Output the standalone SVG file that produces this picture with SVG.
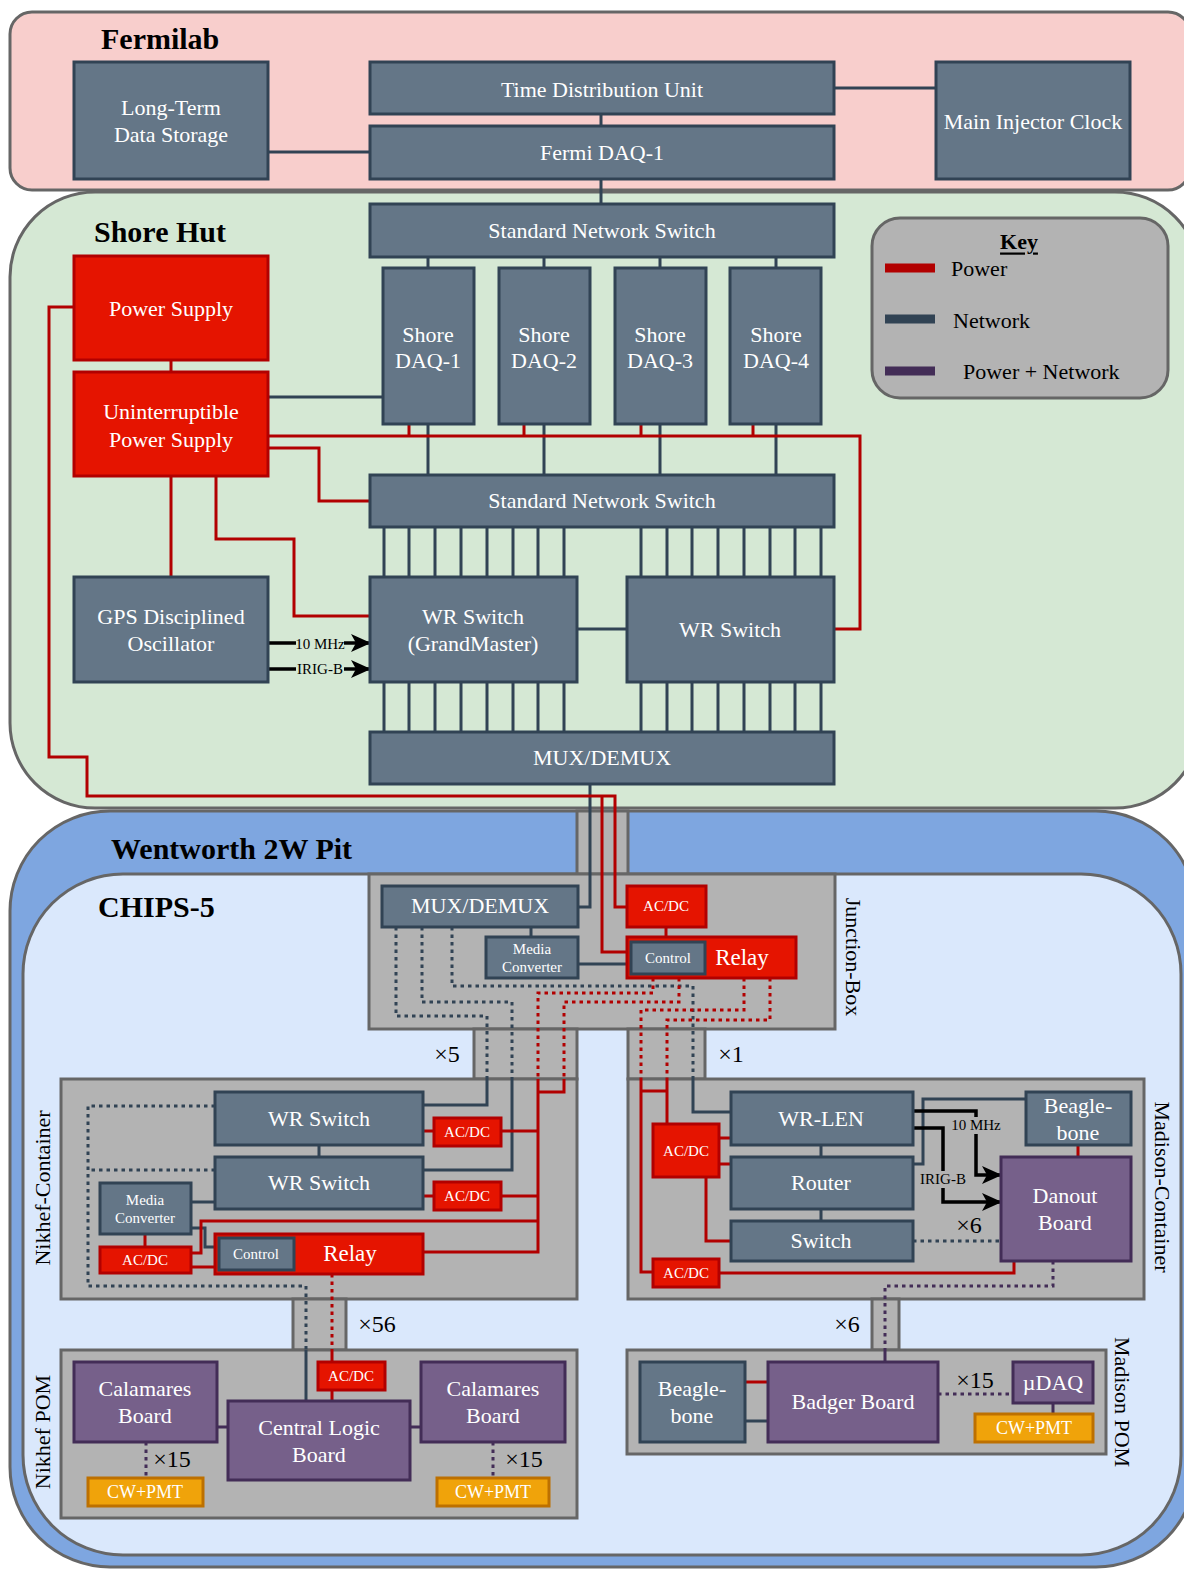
<svg xmlns="http://www.w3.org/2000/svg" width="1184" height="1569" viewBox="0 0 1184 1569">
<style>
.net{fill:#647687;stroke:#314354;stroke-width:3}
.pwr{fill:#e51400;stroke:#b20000;stroke-width:3}
.pur{fill:#76608a;stroke:#432d57;stroke-width:3}
.org{fill:#f0a30a;stroke:#bd7000;stroke-width:3}
.grey{fill:#b3b3b3;stroke:#666666;stroke-width:3}
.ln{fill:none;stroke:#314354;stroke-width:3}
.lp{fill:none;stroke:#b20000;stroke-width:3}
.lu{fill:none;stroke:#432d57;stroke-width:3}
.lk{fill:none;stroke:#000;stroke-width:3.5}
.dot{stroke-dasharray:3.5 4}
text{font-family:"Liberation Serif","Times New Roman",serif;dominant-baseline:central}
.t{fill:#fff;font-size:22px;text-anchor:middle}
.s{fill:#fff;font-size:15px;text-anchor:middle}
.cw{fill:#fff;font-size:18px;text-anchor:middle}
.rl{fill:#fff;font-size:23px;text-anchor:middle}
.k{fill:#000;font-size:22px}
.m{fill:#000;font-size:24px;text-anchor:middle}
.h{fill:#000;font-size:30px;font-weight:bold}
.lb{fill:#000;font-size:15px;text-anchor:middle}
</style>
<defs>
<marker id="arr" viewBox="0 0 20 18" refX="19" refY="9" markerWidth="20" markerHeight="18" markerUnits="userSpaceOnUse" orient="auto">
<path d="M0,0 L20,9 L0,18 L5,9 z" fill="#000"/>
</marker>
</defs>

<g id="regions">
<rect id="fermilab" x="10" y="12" width="1180" height="178" rx="22" fill="#f8cecc" stroke="#666666" stroke-width="3"/>
<rect id="wentworth" x="10" y="811" width="1186" height="756" rx="100" fill="#7ea6e0" stroke="#666666" stroke-width="3"/>
<rect id="shore-hut" x="10" y="192" width="1190" height="616" rx="85" fill="#d5e8d4" stroke="#666666" stroke-width="3"/>
<rect id="chips5" x="23" y="874" width="1158" height="681" rx="100" fill="#dae8fc" stroke="#666666" stroke-width="3"/>
<rect id="key-box" x="872" y="218" width="296" height="180" rx="28" fill="#b3b3b3" stroke="#666666" stroke-width="3"/>
<rect class="grey" x="577" y="811" width="51" height="63"/>
<rect id="junction-box" class="grey" x="369" y="874" width="466" height="155"/>
<rect class="grey" x="474" y="1029" width="103" height="50"/>
<rect class="grey" x="628" y="1029" width="77" height="50"/>
<rect id="nikhef-container" class="grey" x="61" y="1079" width="516" height="220"/>
<rect id="madison-container" class="grey" x="628" y="1079" width="516" height="220"/>
<rect class="grey" x="293" y="1299" width="53" height="51"/>
<rect class="grey" x="872" y="1299" width="27" height="51"/>
<rect id="nikhef-pom" class="grey" x="61" y="1350" width="516" height="168"/>
<rect id="madison-pom" class="grey" x="627" y="1350" width="479" height="104"/>
</g>

<g id="connectors">
<path class="ln" d="M834,88 H936 M601,114 V126 M268,152 H370 M601,179 V204"/>
<path class="ln" d="M428,257 V268 M544,257 V268 M660,257 V268 M776,257 V268 M428,424 V475 M544,424 V475 M660,424 V475 M776,424 V475 M268,397 H383"/>
<path class="ln" d="M384,527 V577 M409,527 V577 M435,527 V577 M461,527 V577 M487,527 V577 M513,527 V577 M538,527 V577 M564,527 V577 M641,527 V577 M667,527 V577 M692,527 V577 M718,527 V577 M744,527 V577 M770,527 V577 M795,527 V577 M821,527 V577"/>
<path class="ln" d="M384,682 V732 M409,682 V732 M435,682 V732 M461,682 V732 M487,682 V732 M513,682 V732 M538,682 V732 M564,682 V732 M641,682 V732 M667,682 V732 M692,682 V732 M718,682 V732 M744,682 V732 M770,682 V732 M795,682 V732 M821,682 V732"/>
<path class="ln" d="M577,629 H627 M590,784 V907 H578"/>
<path class="lp" d="M171,360 V372 M171,476 V577"/>
<path class="lp" d="M74,307 H49 V757 H87 V796 H615 V907 H627"/>
<path class="lp" d="M602,796 V952 H627"/>
<path class="lp" d="M268,436 H860 V629 H834 M409,424 V436 M524,424 V436 M641,424 V436 M753,424 V436"/>
<path class="lp" d="M268,448 H319 V501 H370"/>
<path class="lp" d="M216,476 V539 H294 V616 H370"/>
<path class="lk" d="M269,643 H370" marker-end="url(#arr)"/>
<path class="lk" d="M269,669 H370" marker-end="url(#arr)"/>
<path class="ln" d="M531,927 V937 M578,964 H627"/>
<path class="lp" d="M666,927 V937"/>
<path class="ln dot" d="M396,927 V1016 H487 V1079 M422,927 V1002 H512 V1079 M452,927 V986 H693 V1079"/>
<path class="lp dot" d="M653,978 V993 H538 V1079 M679,978 V1002 H564 V1079 M744,978 V1010 H641 V1079 M770,978 V1020 H667 V1079"/>
<path class="ln" d="M487,1079 V1105 H423 M512,1079 V1170 H423 M319,1145 V1157 M191,1202 H215 M191,1228 H205 V1247 H219"/>
<path class="lp" d="M538,1079 V1252 H423 M564,1079 V1092 H538 M538,1131 H501 M434,1131 H423 M538,1196 H501 M434,1196 H423 M538,1221 H201 V1253 H191 M191,1267 H215 M145,1234 V1247"/>
<path class="ln dot" d="M215,1106 H88 V1286 H306 V1350 M215,1170 H88"/>
<path class="lp dot" d="M332,1274 V1350"/>
<path class="ln" d="M306,1350 V1401"/>
<path class="lp" d="M332,1350 V1362 M332,1390 V1401"/>
<path class="lu" d="M217,1427 H228 M410,1427 H421"/>
<path class="lu dot" d="M146,1442 V1478 M493,1442 V1478"/>
<path class="ln" d="M693,1079 V1112 H731 M821,1145 V1157 M821,1209 V1221 M913,1164 H923 V1099 H1026"/>
<path class="lp" d="M641,1079 V1272 H653 M667,1079 V1124 M641,1091 H667 M719,1138 H731 M719,1164 H731 M706,1177 V1241 H731 M719,1273 H1014 V1261 M1078,1145 V1157"/>
<path class="lk" d="M913,1111 H976 V1175 H1001" marker-end="url(#arr)"/>
<path class="lk" d="M913,1128 H943 V1202 H1001" marker-end="url(#arr)"/>
<path class="ln dot" d="M913,1241 H1001"/>
<path class="lu dot" d="M1053,1261 V1286 H885 V1350"/>
<path class="lu" d="M885,1350 V1362 M1053,1403 V1414"/>
<path class="lp" d="M745,1382 H768"/>
<path class="ln" d="M745,1421 H768"/>
<path class="lu dot" d="M938,1394 H1013"/>
<path d="M885,268 H935" stroke="#b20000" stroke-width="9" fill="none"/>
<path d="M885,319 H935" stroke="#314354" stroke-width="9" fill="none"/>
<path d="M885,371 H935" stroke="#432d57" stroke-width="9" fill="none"/>
</g>

<g id="labels">
<text class="h" x="101" y="38">Fermilab</text>
<text class="h" x="94" y="231">Shore Hut</text>
<text class="h" x="111" y="848">Wentworth 2W Pit</text>
<text class="h" x="98" y="906">CHIPS-5</text>
<rect x="296" y="635" width="48" height="16" fill="#d5e8d4"/>
<text class="lb" x="320" y="644">10 MHz</text>
<rect x="296" y="661" width="48" height="16" fill="#d5e8d4"/>
<text class="lb" x="320" y="669">IRIG-B</text>
<rect x="950" y="1117" width="52" height="17" fill="#b3b3b3"/>
<text class="lb" x="976" y="1125">10 MHz</text>
<rect x="919" y="1171" width="48" height="17" fill="#b3b3b3"/>
<text class="lb" x="943" y="1179">IRIG-B</text>
<text class="k" x="1019" y="241" text-anchor="middle" font-weight="bold" text-decoration="underline">Key</text>
<text class="k" x="951" y="268">Power</text>
<text class="k" x="953" y="320">Network</text>
<text class="k" x="963" y="371">Power + Network</text>
<text class="m" x="447" y="1054">×5</text>
<text class="m" x="731" y="1054">×1</text>
<text class="m" x="377" y="1324">×56</text>
<text class="m" x="847" y="1324">×6</text>
<text class="m" x="172" y="1459">×15</text>
<text class="m" x="524" y="1459">×15</text>
<text class="m" x="969" y="1225">×6</text>
<text class="m" x="975" y="1380">×15</text>
<text class="k" text-anchor="middle" transform="translate(853,957) rotate(90)">Junction-Box</text>
<text class="k" text-anchor="middle" transform="translate(42,1188) rotate(-90)">Nikhef-Container</text>
<text class="k" text-anchor="middle" transform="translate(42,1432) rotate(-90)">Nikhef POM</text>
<text class="k" text-anchor="middle" transform="translate(1162,1187) rotate(90)">Madison-Container</text>
<text class="k" text-anchor="middle" transform="translate(1122,1402) rotate(90)">Madison POM</text>
</g>

<g id="nodes">
<g id="long-term-storage"><rect class="net" x="74" y="62" width="194" height="117"/><text class="t" x="171" y="107">Long-Term</text><text class="t" x="171" y="134">Data Storage</text></g>
<g id="tdu"><rect class="net" x="370" y="62" width="464" height="52"/><text class="t" x="602" y="89">Time Distribution Unit</text></g>
<g id="fermi-daq"><rect class="net" x="370" y="126" width="464" height="53"/><text class="t" x="602" y="152">Fermi DAQ-1</text></g>
<g id="main-injector-clock"><rect class="net" x="936" y="62" width="194" height="117"/><text class="t" x="1033" y="121">Main Injector Clock</text></g>

<g id="std-switch-1"><rect class="net" x="370" y="204" width="464" height="53"/><text class="t" x="602" y="230">Standard Network Switch</text></g>
<g id="shore-daq-1"><rect class="net" x="383" y="268" width="91" height="156"/><text class="t" x="428" y="334">Shore</text><text class="t" x="428" y="360">DAQ-1</text></g>
<g id="shore-daq-2"><rect class="net" x="499" y="268" width="91" height="156"/><text class="t" x="544" y="334">Shore</text><text class="t" x="544" y="360">DAQ-2</text></g>
<g id="shore-daq-3"><rect class="net" x="615" y="268" width="91" height="156"/><text class="t" x="660" y="334">Shore</text><text class="t" x="660" y="360">DAQ-3</text></g>
<g id="shore-daq-4"><rect class="net" x="730" y="268" width="91" height="156"/><text class="t" x="776" y="334">Shore</text><text class="t" x="776" y="360">DAQ-4</text></g>
<g id="power-supply"><rect class="pwr" x="74" y="256" width="194" height="104"/><text class="t" x="171" y="308">Power Supply</text></g>
<g id="ups"><rect class="pwr" x="74" y="372" width="194" height="104"/><text class="t" x="171" y="411">Uninterruptible</text><text class="t" x="171" y="439">Power Supply</text></g>
<g id="std-switch-2"><rect class="net" x="370" y="475" width="464" height="52"/><text class="t" x="602" y="500">Standard Network Switch</text></g>
<g id="gps"><rect class="net" x="74" y="577" width="194" height="105"/><text class="t" x="171" y="616">GPS Disciplined</text><text class="t" x="171" y="643">Oscillator</text></g>
<g id="wr-grandmaster"><rect class="net" x="370" y="577" width="207" height="105"/><text class="t" x="473" y="616">WR Switch</text><text class="t" x="473" y="643">(GrandMaster)</text></g>
<g id="wr-switch-shore"><rect class="net" x="627" y="577" width="207" height="105"/><text class="t" x="730" y="629">WR Switch</text></g>
<g id="mux-shore"><rect class="net" x="370" y="732" width="464" height="52"/><text class="t" x="602" y="757">MUX/DEMUX</text></g>

<g id="mux-jb"><rect class="net" x="382" y="886" width="196" height="41"/><text class="t" x="480" y="905">MUX/DEMUX</text></g>
<g id="media-conv-jb"><rect class="net" x="486" y="937" width="92" height="41"/><text class="s" x="532" y="949">Media</text><text class="s" x="532" y="967">Converter</text></g>
<g id="acdc-jb"><rect class="pwr" x="627" y="886" width="79" height="41"/><text class="s" x="666" y="906">AC/DC</text></g>
<g id="relay-jb"><rect class="pwr" x="627" y="937" width="169" height="41"/><rect class="net" x="631" y="942" width="74" height="32"/><text class="s" x="668" y="958">Control</text><text class="rl" x="742" y="957">Relay</text></g>

<g id="wr-switch-n1"><rect class="net" x="215" y="1092" width="208" height="53"/><text class="t" x="319" y="1118">WR Switch</text></g>
<g id="wr-switch-n2"><rect class="net" x="215" y="1157" width="208" height="52"/><text class="t" x="319" y="1182">WR Switch</text></g>
<g id="acdc-n1"><rect class="pwr" x="434" y="1118" width="67" height="28"/><text class="s" x="467" y="1132">AC/DC</text></g>
<g id="acdc-n2"><rect class="pwr" x="434" y="1182" width="67" height="28"/><text class="s" x="467" y="1196">AC/DC</text></g>
<g id="media-conv-n"><rect class="net" x="100" y="1183" width="91" height="51"/><text class="s" x="145" y="1200">Media</text><text class="s" x="145" y="1218">Converter</text></g>
<g id="acdc-n3"><rect class="pwr" x="100" y="1247" width="91" height="26"/><text class="s" x="145" y="1260">AC/DC</text></g>
<g id="relay-n"><rect class="pwr" x="215" y="1234" width="208" height="40"/><rect class="net" x="219" y="1238" width="75" height="32"/><text class="s" x="256" y="1254">Control</text><text class="rl" x="350" y="1253">Relay</text></g>

<g id="calamares-l"><rect class="pur" x="74" y="1362" width="143" height="80"/><text class="t" x="145" y="1388">Calamares</text><text class="t" x="145" y="1415">Board</text></g>
<g id="central-logic"><rect class="pur" x="228" y="1401" width="182" height="79"/><text class="t" x="319" y="1427">Central Logic</text><text class="t" x="319" y="1454">Board</text></g>
<g id="calamares-r"><rect class="pur" x="421" y="1362" width="144" height="80"/><text class="t" x="493" y="1388">Calamares</text><text class="t" x="493" y="1415">Board</text></g>
<g id="acdc-pom"><rect class="pwr" x="318" y="1362" width="67" height="28"/><text class="s" x="351" y="1376">AC/DC</text></g>
<g id="cwpmt-l"><rect class="org" x="88" y="1478" width="115" height="28"/><text class="cw" x="145" y="1492">CW+PMT</text></g>
<g id="cwpmt-r"><rect class="org" x="437" y="1478" width="112" height="28"/><text class="cw" x="493" y="1492">CW+PMT</text></g>

<g id="wr-len"><rect class="net" x="731" y="1092" width="182" height="53"/><text class="t" x="821" y="1118">WR-LEN</text></g>
<g id="router"><rect class="net" x="731" y="1157" width="182" height="52"/><text class="t" x="821" y="1182">Router</text></g>
<g id="switch-m"><rect class="net" x="731" y="1221" width="182" height="40"/><text class="t" x="821" y="1240">Switch</text></g>
<g id="acdc-m1"><rect class="pwr" x="653" y="1124" width="66" height="53"/><text class="s" x="686" y="1151">AC/DC</text></g>
<g id="acdc-m2"><rect class="pwr" x="653" y="1259" width="66" height="28"/><text class="s" x="686" y="1273">AC/DC</text></g>
<g id="beaglebone-m"><rect class="net" x="1026" y="1092" width="105" height="53"/><text class="t" x="1078" y="1105">Beagle-</text><text class="t" x="1078" y="1132">bone</text></g>
<g id="danout"><rect class="pur" x="1001" y="1157" width="130" height="104"/><text class="t" x="1065" y="1195">Danout</text><text class="t" x="1065" y="1222">Board</text></g>

<g id="beaglebone-pom"><rect class="net" x="640" y="1362" width="105" height="80"/><text class="t" x="692" y="1388">Beagle-</text><text class="t" x="692" y="1415">bone</text></g>
<g id="badger"><rect class="pur" x="768" y="1362" width="170" height="80"/><text class="t" x="853" y="1401">Badger Board</text></g>
<g id="udaq"><rect class="pur" x="1013" y="1362" width="80" height="41"/><text class="t" x="1053" y="1382">µDAQ</text></g>
<g id="cwpmt-m"><rect class="org" x="975" y="1414" width="118" height="28"/><text class="cw" x="1034" y="1428">CW+PMT</text></g>
</g>
</svg>
